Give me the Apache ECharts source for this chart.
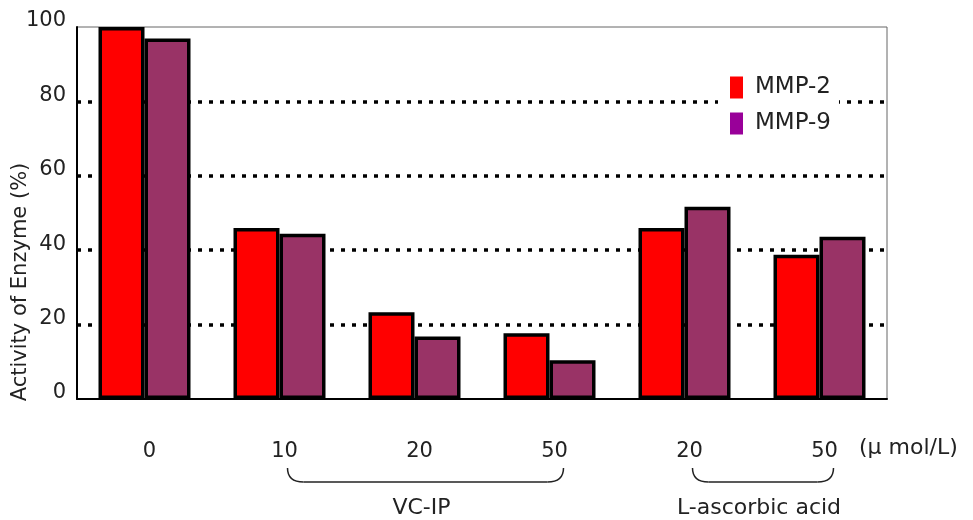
<!DOCTYPE html>
<html>
<head>
<meta charset="utf-8">
<script src="https://cdn.jsdelivr.net/npm/echarts@6/dist/echarts.min.js"></script>
<style>
  html, body { margin: 0; padding: 0; background: #fff; }
  #chart { width: 973px; height: 520px; }
</style>
</head>
<body>
<div id="chart"></div>
<script>
const categories = ['0', '10', '20', '50', '20', '50'];
const mmp2 = [100, 46, 23.3, 17.7, 46, 38.8];
const mmp9 = [96.9, 44.4, 16.8, 10.4, 51.7, 43.6];
const yTicks = [0, 20, 40, 60, 80, 100];
// groups marked with a brace under the axis labels: [first index, last index, label]
const groups = [[1, 3, 'VC-IP'], [4, 5, 'L-ascorbic acid']];

const font = '"DejaVu Sans", sans-serif';
const chart = echarts.init(document.getElementById('chart'));

chart.setOption({
    backgroundColor: '#fff',
    animation: false,
    textStyle: { fontFamily: font },
    grid: {
        left: 77, right: 86, top: 27, bottom: 121,
        show: true, borderColor: '#666', borderWidth: 1
    },
    legend: {
        orient: 'vertical',
        left: 718, top: 71,
        padding: [5, 8, 5, 12],
        backgroundColor: '#fff',
        itemWidth: 13, itemHeight: 22, itemGap: 13,
        icon: 'rect',
        textStyle: { fontSize: 23, color: '#222', padding: [0, 0, 0, 7] },
        data: [
            { name: 'MMP-2', itemStyle: { color: '#ff0000', borderWidth: 0 } },
            { name: 'MMP-9', itemStyle: { color: '#990099', borderWidth: 0 } }
        ]
    },
    xAxis: {
        type: 'category',
        data: categories,
        z: 3,
        axisLine: { lineStyle: { color: '#000', width: 2 } },
        axisTick: { show: false },
        axisLabel: {
            fontSize: 21, color: '#222', margin: 42,
            padding: [0, 0, 0, 10]
        }
    },
    yAxis: {
        type: 'value',
        min: yTicks[0], max: yTicks[yTicks.length - 1], interval: 20,
        axisLine: { show: true, lineStyle: { color: '#000', width: 2 } },
        axisTick: { show: false },
        axisLabel: {
            fontSize: 21, color: '#222', margin: 11,
            verticalAlign: 'bottom', lineHeight: 12
        },
        splitLine: {
            showMinLine: false, showMaxLine: false,
            lineStyle: { color: '#000', width: 3.5, type: [4, 7] }
        }
    },
    series: [
        {
            name: 'MMP-2', type: 'bar', data: mmp2,
            barWidth: 46, barGap: '0%',
            itemStyle: { color: '#ff0000', borderColor: '#000', borderWidth: 3.5 }
        },
        {
            name: 'MMP-9', type: 'bar', data: mmp9,
            barWidth: 46,
            itemStyle: { color: '#993366', borderColor: '#000', borderWidth: 3.5 }
        }
    ]
});

// braces and group names, placed from the category axis
const baseY = chart.convertToPixel({ yAxisIndex: 0 }, 0);
const braceStyle = { stroke: '#222', lineWidth: 1.5, fill: null };
const graphics = [];
groups.forEach(([a, b, label]) => {
    const x1 = chart.convertToPixel({ xAxisIndex: 0 }, a) + 8;
    const x2 = chart.convertToPixel({ xAxisIndex: 0 }, b) + 14;
    const y1 = baseY + 69, y2 = baseY + 83, r = 16;
    graphics.push({
        type: 'bezierCurve',
        shape: { x1: x1, y1: y1, cpx1: x1, cpy1: y2, x2: x1 + r, y2: y2 },
        style: braceStyle
    });
    graphics.push({
        type: 'line',
        shape: { x1: x1 + r, y1: y2, x2: x2 - r, y2: y2 },
        style: braceStyle
    });
    graphics.push({
        type: 'bezierCurve',
        shape: { x1: x2 - r, y1: y2, cpx1: x2, cpy1: y2, x2: x2, y2: y1 },
        style: braceStyle
    });
    graphics.push({
        type: 'text',
        x: (x1 + x2) / 2 - 4, y: baseY + 109,
        style: {
            text: label, font: `22px ${font}`, fill: '#222',
            textAlign: 'center', textVerticalAlign: 'middle'
        }
    });
});
graphics.push({
    type: 'text',
    x: 859, y: baseY + 49,
    style: {
        text: '(μ mol/L)', font: `22px ${font}`, fill: '#222',
        textAlign: 'left', textVerticalAlign: 'middle'
    }
});
graphics.push({
    type: 'text',
    x: 21, y: 282, rotation: Math.PI / 2,
    style: {
        text: 'Activity of Enzyme (%)', font: `21px ${font}`, fill: '#222',
        textAlign: 'center', textVerticalAlign: 'middle'
    }
});
chart.setOption({ graphic: graphics });
</script>
</body>
</html>
